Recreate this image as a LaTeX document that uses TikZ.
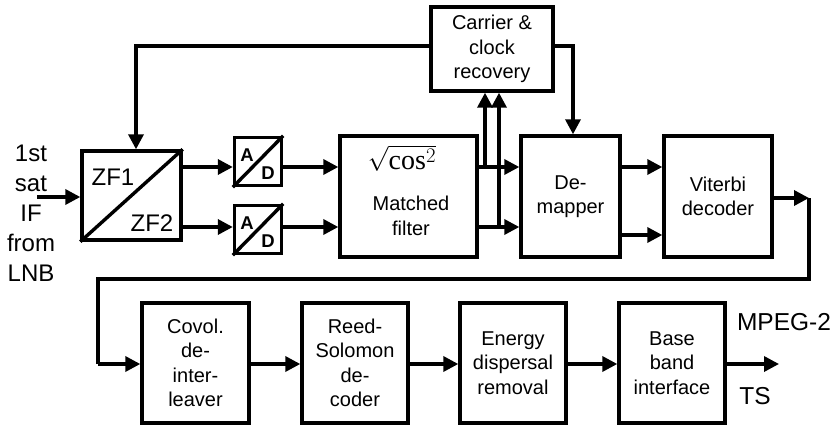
\documentclass[tikz,border=0pt]{standalone}
\usepackage[no-math]{fontspec}
\setmainfont{Liberation Sans}
\newfontfamily\serifcos{Liberation Serif}
\usetikzlibrary{arrows.meta}
\begin{document}
\begin{tikzpicture}[x=1pt,y=-1pt,
  box/.style={draw, line width=3.4pt, rectangle, inner sep=0pt, align=center,
    font=\fontsize{20}{24.5}\selectfont},
  arr/.style={line width=3.4pt, -{Triangle[length=15pt,width=15pt]}},
  wire/.style={line width=3.4pt},
  big/.style={inner sep=0pt, align=center, font=\fontsize{24}{30}\selectfont},
  adl/.style={inner sep=0pt, font=\bfseries\fontsize{18.5}{18.5}\selectfont}]
\useasboundingbox (0,0) rectangle (838,425);

% level coordinates
\coordinate (r1) at (0,167);
\coordinate (r2) at (0,227);
\coordinate (r3) at (0,235);
\coordinate (rin) at (0,197);
\coordinate (rv) at (0,198);
\coordinate (rb) at (0,364);
\coordinate (fbx) at (136,0);
\coordinate (ccy) at (0,46);
\coordinate (v1) at (485,0);
\coordinate (v2) at (499,0);
\coordinate (dmx) at (573,0);

% blocks
\node[box, minimum width=99pt, minimum height=89pt] (zf) at (131.5,195.5) {};
\draw[line width=3.4pt] (zf.south west) -- (zf.north east);
\node[inner sep=0pt, font=\fontsize{24}{24}\selectfont] (zf1) at (113,177) {ZF1};
\node[inner sep=0pt, font=\fontsize{24}{24}\selectfont] (zf2) at (152,223) {ZF2};

\node[box, minimum width=47pt, minimum height=48pt] (ad1) at (258,161.5) {};
\draw[line width=3.4pt] (ad1.south west) -- (ad1.north east);
\node[adl] (a1) at (247,155) {A};
\node[adl] (d1) at (268,173) {D};
\node[box, minimum width=47pt, minimum height=48pt] (ad2) at (258,229.5) {};
\draw[line width=3.4pt] (ad2.south west) -- (ad2.north east);
\node[adl] (a2) at (247,223) {A};
\node[adl] (d2) at (268,241) {D};

\node[box, minimum width=137pt, minimum height=121pt] (mf) at (408.5,196.5) {};
\node[inner sep=0pt, font=\fontsize{28}{28}\selectfont] (sq) at (402,158) {$\sqrt{\mbox{\serifcos cos}^2}$};
\node[inner sep=0pt, align=center, font=\fontsize{20}{24.5}\selectfont] (mft) at (411,216) {Matched\\filter};

\node[box, minimum width=99pt, minimum height=121pt] (dm) at (570.5,196.5) {De-\\mapper};
\node[box, minimum width=108pt, minimum height=121pt] (vd) at (718,196.5) {Viterbi\\decoder};
\node[box, minimum width=122pt, minimum height=84pt] (cc) at (492,49) {Carrier \&\\clock\\recovery};

\node[box, minimum width=107pt, minimum height=120pt] (cv) at (195.5,363) {Covol.\\de-\\inter-\\leaver};
\node[box, minimum width=106pt, minimum height=120pt] (rs) at (355,363) {Reed-\\Solomon\\de-\\coder};
\node[box, minimum width=106pt, minimum height=120pt] (ed) at (513,363) {Energy\\dispersal\\removal};
\node[box, minimum width=106pt, minimum height=120pt] (bb) at (672,363) {Base\\band\\interface};

% labels
\node[big] (inl) at (31,213) {1st\\sat\\IF\\from\\LNB};
\node[inner sep=0pt, font=\fontsize{24.5}{24.5}\selectfont] (mpeg) at (784,322) {MPEG-2};
\node[inner sep=0pt, font=\fontsize{24.5}{24.5}\selectfont] (ts) at (755,396) {TS};
\coordinate (instart) at (37,197);
\coordinate (outend) at (779,364);
\coordinate (vx) at (809,0);
\coordinate (lowy) at (0,279);
\coordinate (lx) at (98,0);

% connectors
\draw[arr] (instart) -- (zf.west |- rin);
\draw[arr] (zf.east |- r1) -- (ad1.west |- r1);
\draw[arr] (zf.east |- r2) -- (ad2.west |- r2);
\draw[arr] (ad1.east |- r1) -- (mf.west |- r1);
\draw[arr] (ad2.east |- r2) -- (mf.west |- r2);
\draw[arr] (mf.east |- r1) -- (dm.west |- r1);
\draw[arr] (mf.east |- r2) -- (dm.west |- r2);
\draw[arr] (v1 |- r1) -- (v1 |- cc.south);
\draw[arr] (v2 |- r2) -- (v2 |- cc.south);
\draw[arr] (cc.west |- ccy) -- (fbx |- ccy) -- (fbx |- zf.north);
\draw[arr] (cc.east |- ccy) -- (dmx |- ccy) -- (dmx |- dm.north);
\draw[arr] (dm.east |- r1) -- (vd.west |- r1);
\draw[arr] (dm.east |- r3) -- (vd.west |- r3);
\draw[arr] (vd.east |- rv) -- (vx |- rv);
\draw[wire, line join=miter] (vx |- rv) -- (vx |- lowy) -- (lx |- lowy) -- (lx |- rb);
\draw[arr] (lx |- rb) -- (cv.west |- rb);
\draw[arr] (cv.east |- rb) -- (rs.west |- rb);
\draw[arr] (rs.east |- rb) -- (ed.west |- rb);
\draw[arr] (ed.east |- rb) -- (bb.west |- rb);
\draw[arr] (bb.east |- rb) -- (outend);
\end{tikzpicture}
\end{document}
